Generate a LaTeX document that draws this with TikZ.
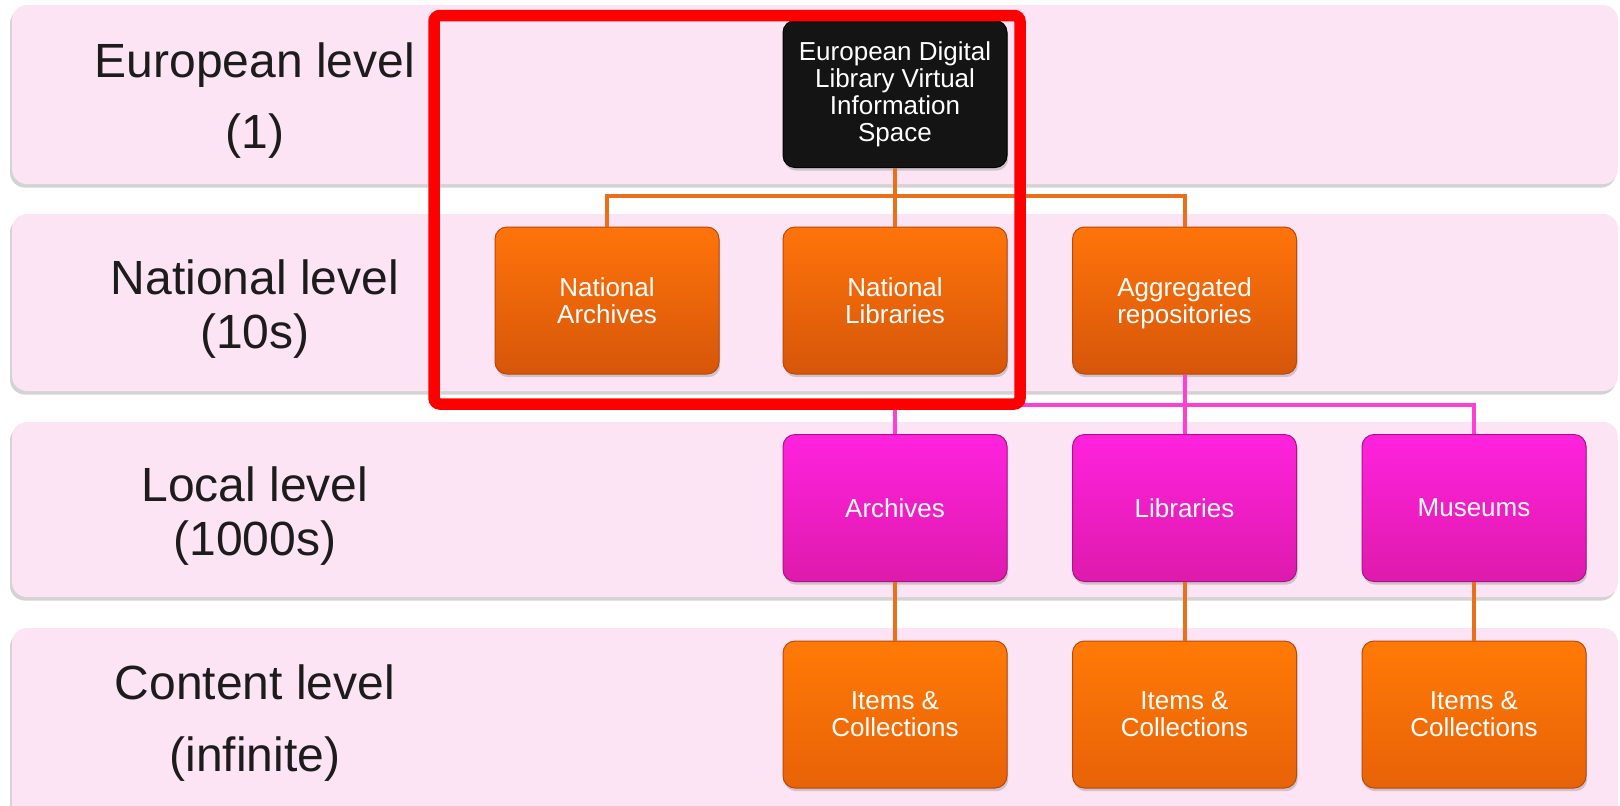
\documentclass[tikz,border=0pt]{standalone}
\usepackage{fontspec}
\setmainfont{Liberation Sans}
\usetikzlibrary{shadows}
\definecolor{bandpink}{RGB}{252,228,244}
\definecolor{lbltext}{RGB}{28,28,28}
\definecolor{orgtop}{RGB}{255,116,10}
\definecolor{orgbot}{RGB}{214,86,10}
\definecolor{orgedge}{RGB}{185,72,10}
\definecolor{cnttop}{RGB}{255,122,6}
\definecolor{cntbot}{RGB}{232,98,8}
\definecolor{magtop}{RGB}{255,34,222}
\definecolor{magbot}{RGB}{222,26,172}
\definecolor{magedge}{RGB}{170,20,130}
\definecolor{blk}{RGB}{20,20,20}
\definecolor{oline}{RGB}{232,112,26}
\definecolor{pline}{RGB}{255,62,210}
\begin{document}
\begin{tikzpicture}[x=0.5pt,y=-0.5pt,
  band/.style={fill=bandpink, rounded corners=7.5pt,
    drop shadow={opacity=0.35, shadow xshift=-1pt, shadow yshift=-1.8pt}},
  lvl/.style={text=lbltext, align=center, inner sep=0pt},
  box/.style={rounded corners=6pt, minimum width=112pt, minimum height=73.5pt,
    inner sep=2pt, text=white, align=center,
    font=\fontsize{13}{13.5}\selectfont,
    drop shadow={opacity=0.35, shadow xshift=0.6pt, shadow yshift=-1.6pt}},
  natbox/.style={box, top color=orgtop, bottom color=orgbot, draw=orgedge, line width=0.5pt},
  cntbox/.style={box, top color=cnttop, bottom color=cntbot, draw=orgedge, line width=0.5pt},
  locbox/.style={box, top color=magtop, bottom color=magbot, draw=magedge, line width=0.5pt},
  eurbox/.style={box, fill=blk, draw=black, line width=0.5pt},
  oconn/.style={draw=oline, line width=2pt},
  pconn/.style={draw=pline, line width=2pt},
  redframe/.style={draw=red, line width=5.75pt, rounded corners=3pt}
]
\useasboundingbox (0,0) rectangle (1620,805);
% bands
\path[band] (12,5) rectangle (1618,184);
\path[band] (12,214) rectangle (1618,391);
\path[band] (12,422) rectangle (1618,597);
\path[band] (12,628) rectangle (1618,840);
% level labels
\node[lvl, font=\fontsize{24}{35.5}\selectfont] (l1) at (255,101) {European level\\(1)};
\node[lvl, font=\fontsize{24}{27}\selectfont] (l2) at (255,309) {National level\\(10s)};
\node[lvl, font=\fontsize{24}{27}\selectfont] (l3) at (255,516) {Local level\\(1000s)};
\node[lvl, font=\fontsize{24}{36}\selectfont] (l4) at (255,723) {Content level\\(infinite)};
% helper coordinates for connector rails
\coordinate (hn) at (0,196);
\coordinate (hp) at (0,405);
% boxes
\node[eurbox] (eds) at (895,94) {European Digital\\Library Virtual\\Information\\Space};
\node[natbox] (na) at (607,300.5) {National\\Archives};
\node[natbox] (nl) at (895,300.5) {National\\Libraries};
\node[natbox] (ar) at (1184.5,300.5) {Aggregated\\\raisebox{0pt}[\height][0pt]{repositories}};
\node[locbox] (arc) at (895,508) {Archives};
\node[locbox] (lib) at (1184.5,508) {Libraries};
\node[locbox] (mus) at (1474,508) {Museums};
\node[cntbox] (ic1) at (895,714.5) {Items \&\\Collections};
\node[cntbox] (ic2) at (1184.5,714.5) {Items \&\\Collections};
\node[cntbox] (ic3) at (1474,714.5) {Items \&\\Collections};
% connectors
\draw[oconn] (eds.south) -- (nl.north);
\draw[oconn] (na.north) |- (ar.north |- hn) -- (ar.north);
\draw[pconn] (ar.south) -- (lib.north);
\draw[pconn] (arc.north) |- (mus.north |- hp) -- (mus.north);
\draw[oconn] (arc.south) -- (ic1.north);
\draw[oconn] (lib.south) -- (ic2.north);
\draw[oconn] (mus.south) -- (ic3.north);
% highlight frame
\draw[redframe] (434,15.5) rectangle (1020,404);
\end{tikzpicture}
\end{document}
